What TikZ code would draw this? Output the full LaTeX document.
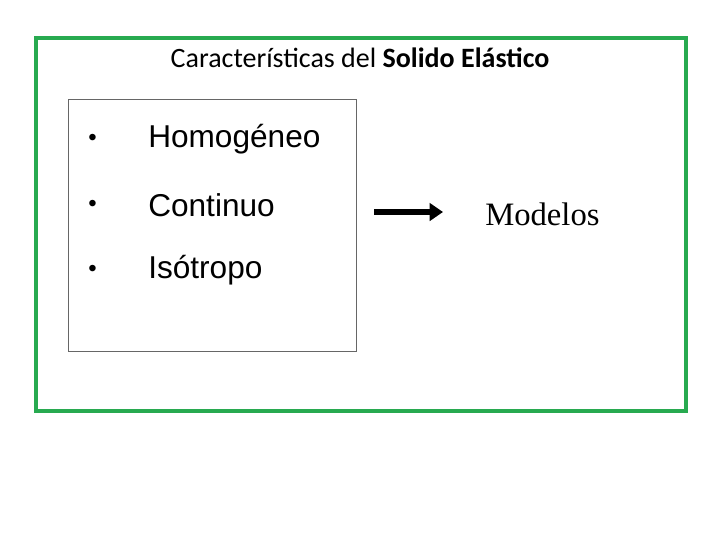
\documentclass[tikz,border=0pt]{standalone}
\usetikzlibrary{arrows.meta}
\usepackage{fontspec}
\setmainfont{Liberation Serif}
\newfontfamily\arialf{Liberation Sans}
\newfontfamily\calib{Carlito}
\definecolor{grn}{RGB}{40,170,80}
\tikzset{item/.style={anchor=west,font=\arialf\fontsize{23.7}{26}\selectfont,inner sep=0pt},
 bul/.style={anchor=west,font=\arialf\fontsize{18}{20}\selectfont,inner sep=0pt}}
\begin{document}
\begin{tikzpicture}[x=0.75pt,y=-0.75pt]
\useasboundingbox (0,0) rectangle (720,540);
\draw[grn,line width=2.4pt] (36,38) rectangle (686,411);
\node[font=\calib\fontsize{21}{24}\selectfont,inner sep=0pt] (title) at (360,58) {Características del \textbf{Solido Elástico}};
\draw[gray!80!black,line width=0.6pt] (68,99) rectangle (356,351);
\node[bul] (b1) at (88,140) {•};
\node[item] (t1) at (148,139) {Homogéneo};
\node[bul] (b2) at (88,206) {•};
\node[item] (t2) at (148,205) {Continuo};
\node[bul] (b3) at (88,271) {•};
\node[item] (t3) at (148,270) {Isótropo};
\coordinate (as) at (374,212);
\node[font=\fontsize{24.5}{28}\selectfont,inner sep=0pt,anchor=west] (m) at (485,214) {Modelos};
\draw[line width=4.5pt,-{Triangle[length=10pt,width=13pt]}] (as) -- (443,212);
\end{tikzpicture}
\end{document}
